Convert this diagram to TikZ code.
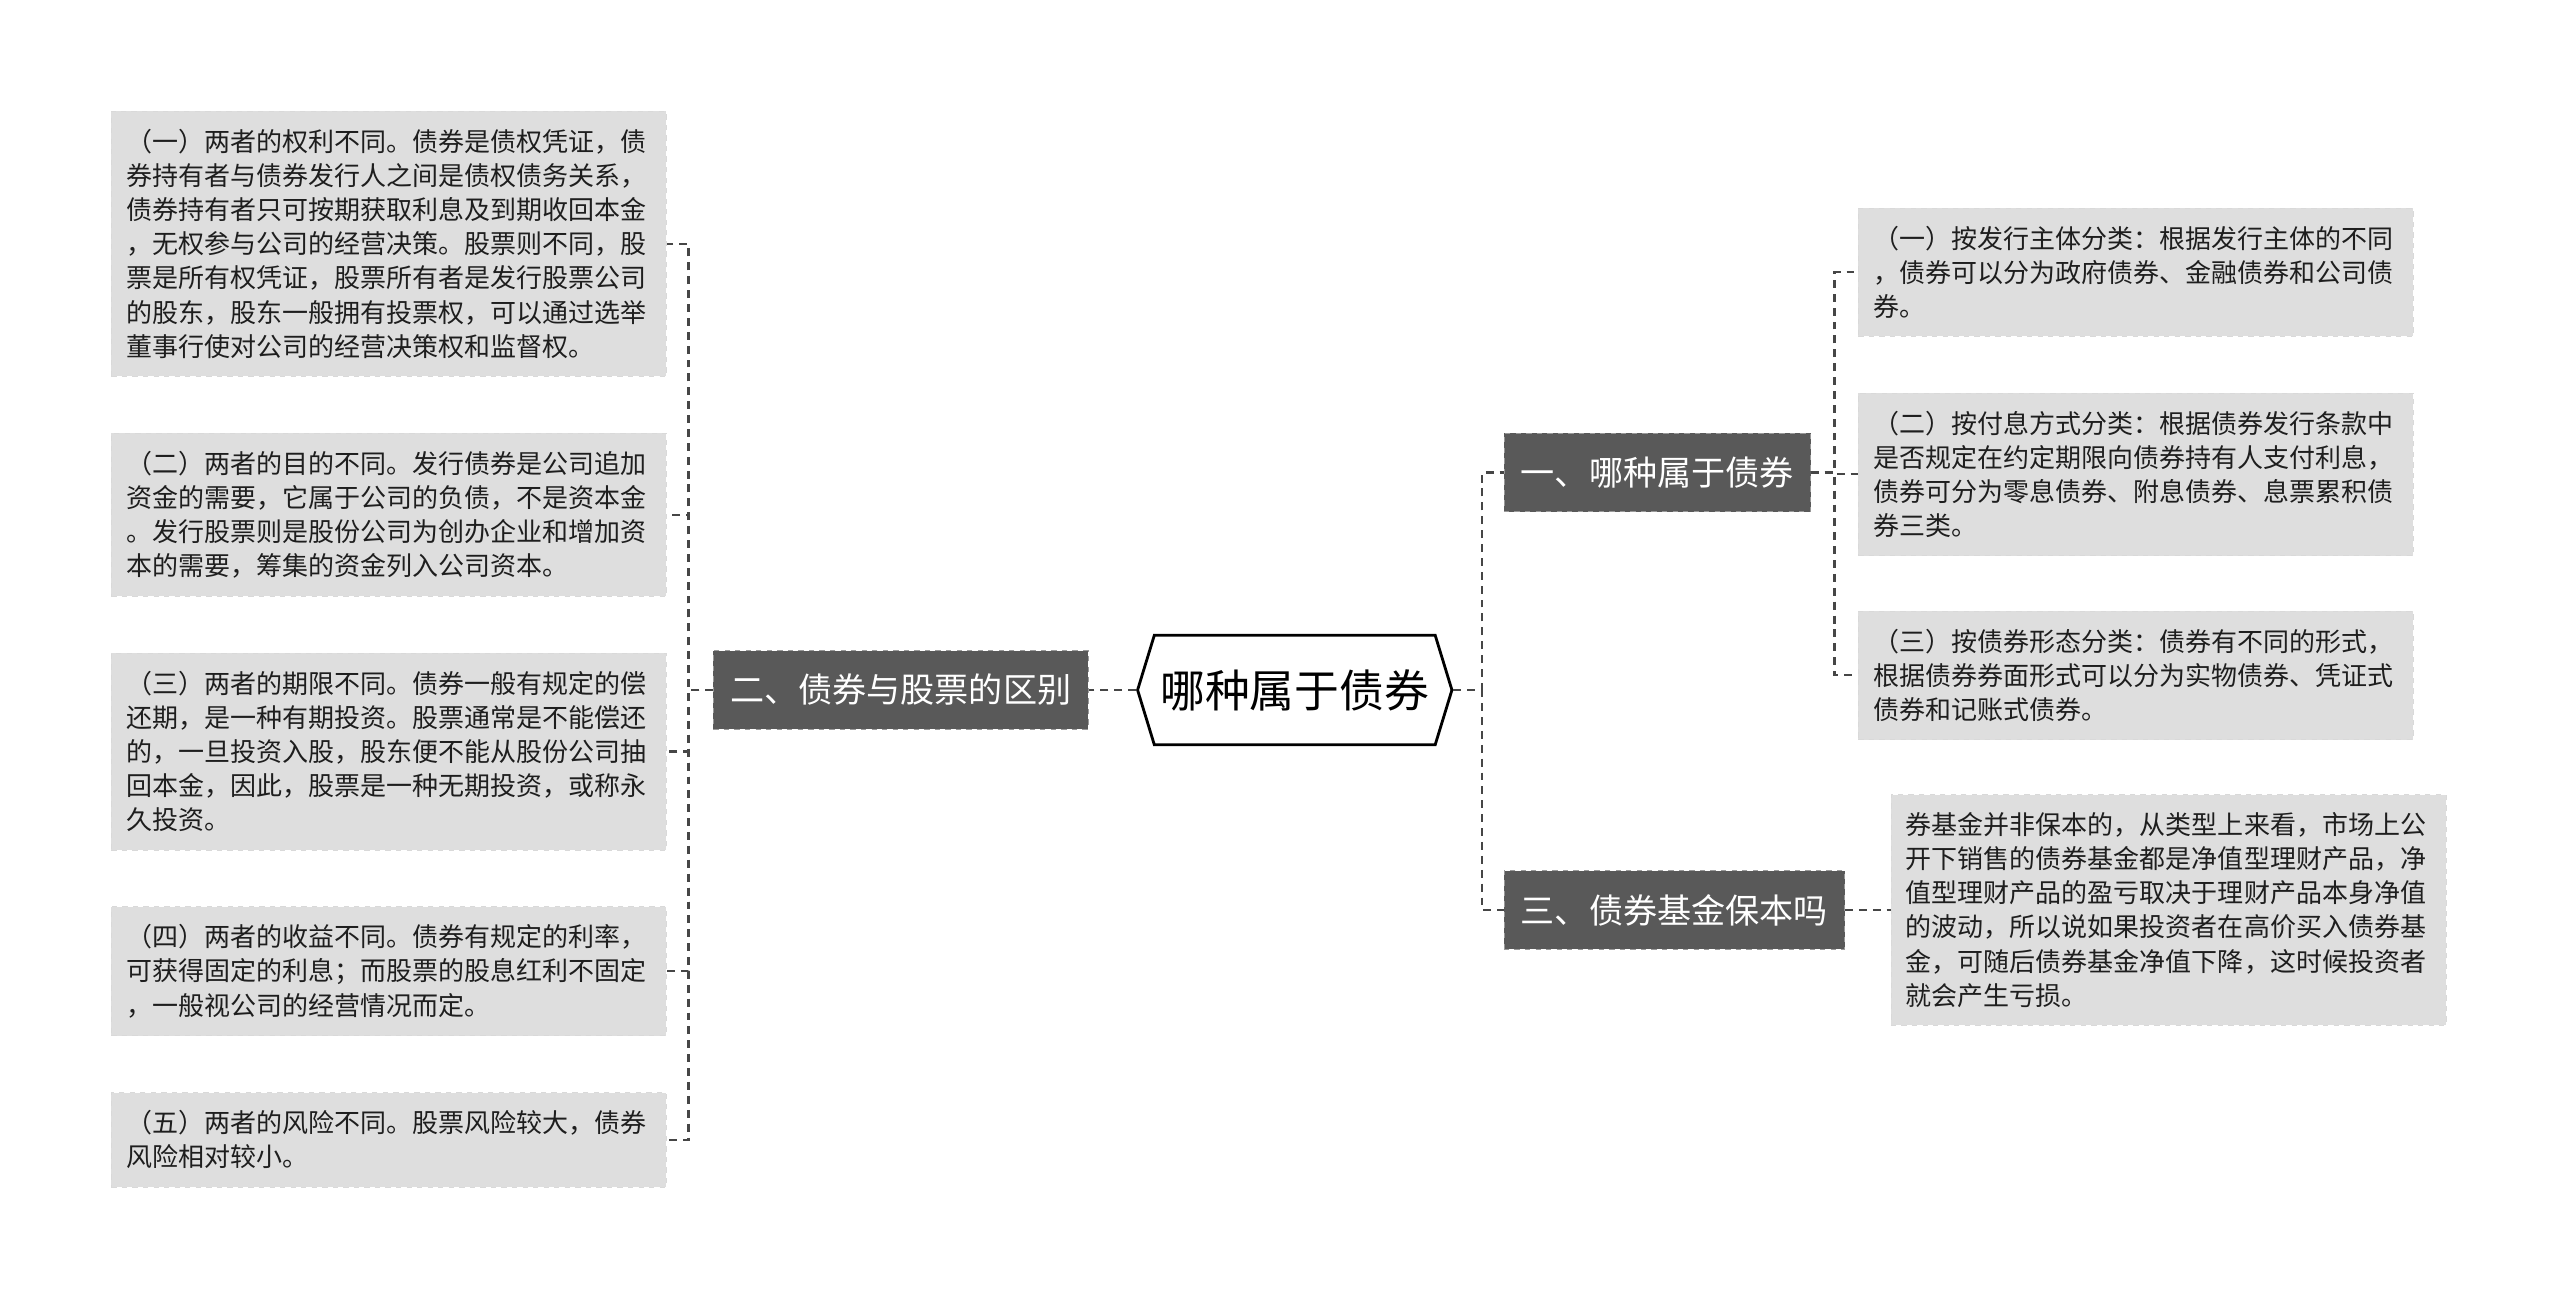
\documentclass[tikz,border=0pt]{standalone}
\usepackage{fontspec}
\setmainfont{Noto Sans CJK SC}
\usepackage{xcolor}
\usepackage{tikz}
\usetikzlibrary{positioning, shapes.symbols}
\definecolor{NoteGray}{HTML}{DEDEDE}
\definecolor{TopicGray}{HTML}{595959}
\definecolor{LinkGray}{HTML}{464646}
\definecolor{InkGray}{HTML}{1E1E1E}

\begin{document}
\begin{tikzpicture}[
            note/.style={draw=black!15, dashed, fill=NoteGray, text=InkGray, align=left, text width=10.5cm, inner xsep=0.3cm, inner ysep=0.36cm, font=\fontsize{14.8pt}{19.4pt}\selectfont},
            topic/.style={draw=black!40, dashed, fill=TopicGray, text=white, minimum height=1.57cm, inner xsep=0.34cm, font=\fontsize{19.4pt}{23pt}\selectfont},
            hubbox/.style={draw, line width=1.6pt, signal, signal to=west and east, signal pointer angle=146, fill=white, minimum height=2.19cm, inner xsep=0.12cm, font=\fontsize{25.5pt}{30pt}\selectfont},
            link/.style={LinkGray, line width=1.25pt, dash pattern=on 4.5pt off 3.4pt}
        ]
            \fill[white] (0,0) rectangle (51.2,-25.94);
            \useasboundingbox (0,0) rectangle (51.2,-25.94);

            \node[hubbox] (hub) at (25.895,-13.80) {哪种属于债券};

            \node[topic, left=0.95cm of hub] (er) {二、债券与股票的区别};
            \node[topic, anchor=west] (yi) at (30.07,-9.45) {一、哪种属于债券};
            \node[topic, anchor=west] (san) at (30.07,-18.20) {三、债券基金保本吗};

            \node[note, anchor=north west] (l1) at (2.22,-2.22) {
                （一）两者的权利不同。债券是债权凭证，债\\
                券持有者与债券发行人之间是债权债务关系，\\
                债券持有者只可按期获取利息及到期收回本金\\
                ，无权参与公司的经营决策。股票则不同，股\\
                票是所有权凭证，股票所有者是发行股票公司\\
                的股东，股东一般拥有投票权，可以通过选举\\
                董事行使对公司的经营决策权和监督权。
            };
            \node[note, below=1.12cm of l1] (l2) {
                （二）两者的目的不同。发行债券是公司追加\\
                资金的需要，它属于公司的负债，不是资本金\\
                。发行股票则是股份公司为创办企业和增加资\\
                本的需要，筹集的资金列入公司资本。
            };
            \node[note, below=1.12cm of l2] (l3) {
                （三）两者的期限不同。债券一般有规定的偿\\
                还期，是一种有期投资。股票通常是不能偿还\\
                的，一旦投资入股，股东便不能从股份公司抽\\
                回本金，因此，股票是一种无期投资，或称永\\
                久投资。
            };
            \node[note, below=1.12cm of l3] (l4) {
                （四）两者的收益不同。债券有规定的利率，\\
                可获得固定的利息；而股票的股息红利不固定\\
                ，一般视公司的经营情况而定。
            };
            \node[note, below=1.12cm of l4] (l5) {
                （五）两者的风险不同。股票风险较大，债券\\
                风险相对较小。
            };

            \node[note, anchor=north west] (r1) at (37.16,-4.15) {
                （一）按发行主体分类：根据发行主体的不同\\
                ，债券可以分为政府债券、金融债券和公司债\\
                券。
            };
            \node[note, below=1.12cm of r1] (r2) {
                （二）按付息方式分类：根据债券发行条款中\\
                是否规定在约定期限向债券持有人支付利息，\\
                债券可分为零息债券、附息债券、息票累积债\\
                券三类。
            };
            \node[note, below=1.09cm of r2] (r3) {
                （三）按债券形态分类：债券有不同的形式，\\
                根据债券券面形式可以分为实物债券、凭证式\\
                债券和记账式债券。
            };
            \node[note, right=0.91cm of san] (r4) {
                券基金并非保本的，从类型上来看，市场上公\\
                开下销售的债券基金都是净值型理财产品，净\\
                值型理财产品的盈亏取决于理财产品本身净值\\
                的波动，所以说如果投资者在高价买入债券基\\
                金，可随后债券基金净值下降，这时候投资者\\
                就会产生亏损。
            };

            \draw[link] (hub.west) -- (er.east);
            \foreach \n in {l1,l2,l3,l4,l5}
                \draw[link] (er.west) -- ++(-0.49,0) |- (\n.east);

            \foreach \n in {yi,san}
                \draw[link] (hub.east) -- ++(0.57,0) |- (\n.west);
            \foreach \n in {r1,r2,r3}
                \draw[link] (yi.east) -- ++(0.47,0) |- (\n.west);
            \draw[link] (san.east) -- (r4.west);

        \end{tikzpicture}
\end{document}
